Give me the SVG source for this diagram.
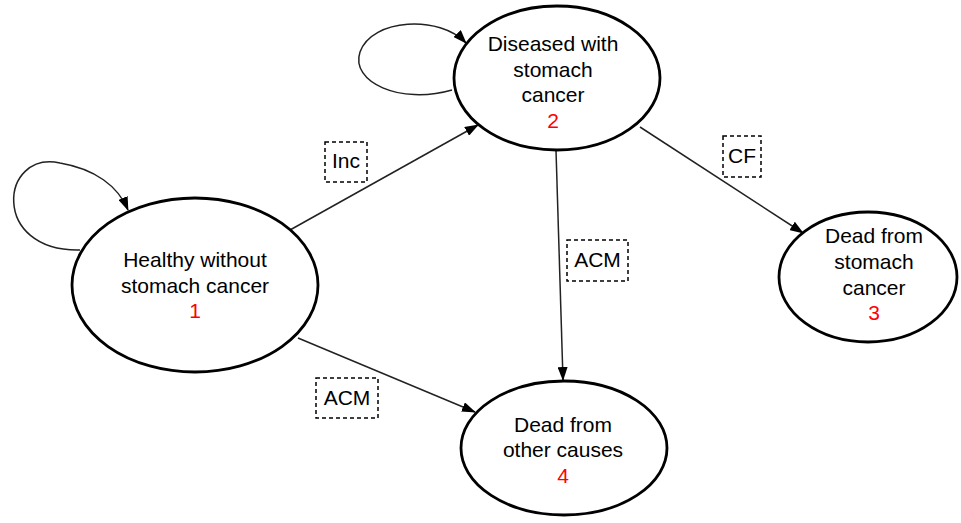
<svg xmlns="http://www.w3.org/2000/svg" width="961" height="523" viewBox="0 0 961 523">
<style>
.node{fill:#fff;stroke:#000;stroke-width:2.8}
.t{font-family:"Liberation Sans",Arial,sans-serif;font-size:21px;fill:#000;text-anchor:middle}
.n{fill:#ff0000}
.e{fill:none;stroke:#222;stroke-width:1.5}
.lb{fill:#fff;stroke:#000;stroke-width:1.5;stroke-dasharray:4 3}
</style>
<defs>
<marker id="ah" markerWidth="14" markerHeight="10" refX="13" refY="5" orient="auto" markerUnits="userSpaceOnUse">
<path d="M0,0 L14,5 L0,10 Z" fill="#000"/>
</marker>
</defs>
<g id="connectors">
<path class="e" d="M80,250 C-10,252 0,150 60,163 C95,169 118,186 128,210" marker-end="url(#ah)"/>
<path class="e" d="M452,90 C400,105 350,82 360,52 C372,18 440,15 466,43" marker-end="url(#ah)"/>
<line class="e" x1="290" y1="230" x2="478" y2="125" marker-end="url(#ah)"/>
<line class="e" x1="298" y1="338" x2="475" y2="412" marker-end="url(#ah)"/>
<line class="e" x1="556" y1="150" x2="563" y2="380" marker-end="url(#ah)"/>
<line class="e" x1="640" y1="127" x2="803" y2="233" marker-end="url(#ah)"/>
</g>
<g id="node1">
<ellipse class="node" cx="195" cy="285" rx="123" ry="87"/>
<text class="t" x="195" y="267">Healthy without</text>
<text class="t" x="195" y="293">stomach cancer</text>
<text class="t n" x="195" y="318">1</text>
</g>
<g id="node2">
<ellipse class="node" cx="557" cy="78" rx="103" ry="72"/>
<text class="t" x="553" y="51">Diseased with</text>
<text class="t" x="553" y="77">stomach</text>
<text class="t" x="553" y="102">cancer</text>
<text class="t n" x="553" y="128">2</text>
</g>
<g id="node3">
<ellipse class="node" cx="868" cy="277" rx="89" ry="65"/>
<text class="t" x="874" y="243">Dead from</text>
<text class="t" x="874" y="269">stomach</text>
<text class="t" x="874" y="295">cancer</text>
<text class="t n" x="874" y="320">3</text>
</g>
<g id="node4">
<ellipse class="node" cx="564" cy="448" rx="103" ry="67"/>
<text class="t" x="563" y="432">Dead from</text>
<text class="t" x="563" y="457">other causes</text>
<text class="t n" x="563" y="483">4</text>
</g>
<g id="labels">
<g id="lbl-inc"><rect class="lb" x="325" y="142" width="42" height="40"/><text class="t" x="346" y="168">Inc</text></g>
<g id="lbl-acm1"><rect class="lb" x="567" y="240" width="61" height="41"/><text class="t" x="597.5" y="267">ACM</text></g>
<g id="lbl-acm2"><rect class="lb" x="316" y="378" width="62" height="40"/><text class="t" x="347" y="405">ACM</text></g>
<g id="lbl-cf"><rect class="lb" x="723" y="136" width="38" height="41"/><text class="t" x="742" y="163">CF</text></g>
</g>
</svg>
